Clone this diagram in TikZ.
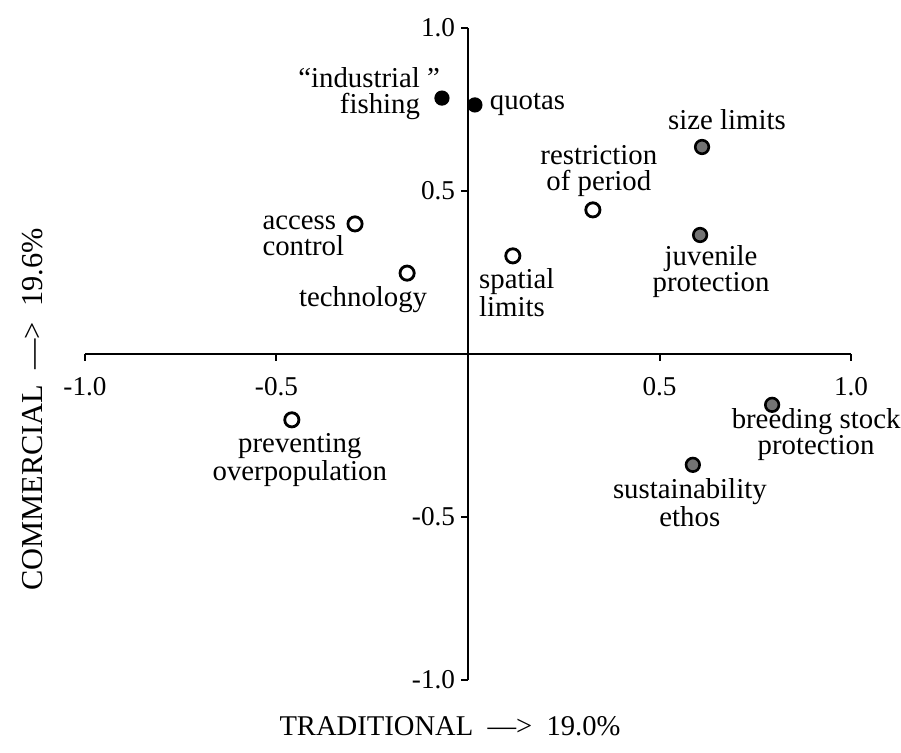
\documentclass[tikz,border=0pt]{standalone}
\usepackage{fontspec}
\setmainfont{Liberation Serif}
\usetikzlibrary{positioning}

\tikzset{
  axis/.style={line width=1bp},
  opendot/.style={circle, draw, line width=1.4bp, fill=white, inner sep=0pt, minimum size=7.1bp},
  darkdot/.style={circle, draw, fill=black, line width=1bp, inner sep=0pt, minimum size=6.6bp},
  greydot/.style={circle, draw, fill=black!55, line width=1.3bp, inner sep=0pt, minimum size=6.8bp},
  lbl/.style={inner sep=0pt, font=\fontsize{14.4bp}{13bp}\selectfont},
  ticklbl/.style={inner sep=0pt, font=\fontsize{13.6bp}{14bp}\selectfont},
  axistitle/.style={inner sep=0pt, font=\fontsize{14.3bp}{15bp}\selectfont}
}

\begin{document}
\begin{tikzpicture}[x=6.756cm, y=5.750cm]
\useasboundingbox (-1.2219,-1.2239) rectangle (1.1305,1.0859);

% axes
\draw[axis] (-1,0) -- (1,0);
\draw[axis] (0,1) -- (0,-1);
\foreach \t/\s [count=\k] in {-1/-1.0, -0.5/-0.5, 0.5/0.5, 1/1.0}{
  \draw[axis] (\t,0) -- ++(0,-3.5bp) node[ticklbl, below=7.5bp] (xtick\k) {\s};
  \draw[axis] (0,\t) -- ++(-3.5bp,0) node[ticklbl, left=2.5bp] (ytick\k) {\s};
}

% commercial
\node[darkdot] (fishing) at (-0.068,0.785) {};
\node[lbl, align=right, left=7bp of fishing, yshift=2bp] (fishinglbl) {``industrial\rlap{\ ''}\\fishing};
\node[darkdot] (quotas) at (0.018,0.764) {};
\node[lbl, right=3.5bp of quotas] (quotaslbl) {quotas};

% traditional
\node[greydot] (size) at (0.611,0.635) {};
\node[lbl, above=4.5bp of size, xshift=12.5bp] (sizelbl) {size limits};
\node[greydot] (juvenile) at (0.606,0.365) {};
\node[lbl, align=center, below=1bp of juvenile, xshift=5.5bp] (juvenilelbl) {juvenile\\protection};
\node[greydot] (breeding) at (0.794,-0.156) {};
\node[lbl, align=center, below=-2.5bp of breeding, xshift=22bp] (breedinglbl) {breeding stock\\protection};
\node[greydot] (ethos) at (0.587,-0.340) {};
\node[lbl, align=center, below=2.5bp of ethos, xshift=-1.5bp] (ethoslbl) {sustainability\\ethos};

% others
\node[opendot] (period) at (0.326,0.442) {};
\node[lbl, align=center, above=2bp of period, xshift=3bp] (periodlbl) {restriction\\of period};
\node[opendot] (access) at (-0.295,0.399) {};
\node[lbl, align=left, left=1bp of access, yshift=-6bp] (accesslbl) {access\\control};
\node[opendot] (technology) at (-0.159,0.248) {};
\node[lbl, below=2bp of technology, xshift=-22bp] (technologylbl) {technology};
\node[opendot] (spatial) at (0.117,0.301) {};
\node[lbl, align=left, below=2bp of spatial, xshift=2bp] (spatiallbl) {spatial\\limits};
\node[opendot] (overpop) at (-0.460,-0.202) {};
\node[lbl, align=center, below=2.5bp of overpop, xshift=4bp] (overpoplbl) {preventing\\overpopulation};

% axis titles
\node[axistitle] (xtitle) at (-0.047,-1.141) {TRADITIONAL\ \ —>\ \ 19.0\%};
\node[axistitle, font=\fontsize{15.2bp}{16bp}\selectfont, rotate=90] (ytitle) at (-1.138,-0.170) {COMMERCIAL\ \ —>\ \ 19.6\%};
\end{tikzpicture}
\end{document}
